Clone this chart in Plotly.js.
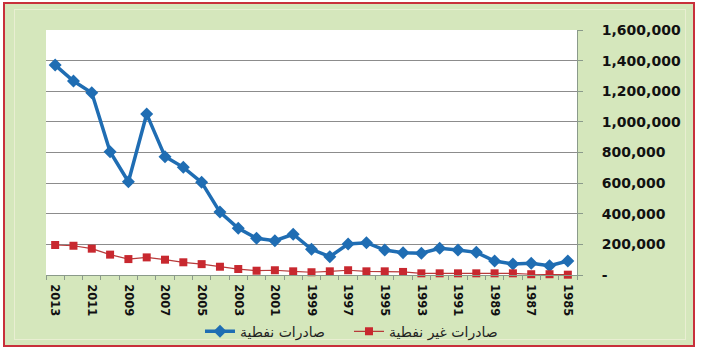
<!DOCTYPE html>
<html><head><meta charset="utf-8">
<script src="https://cdn.plot.ly/plotly-3.0.1.min.js"></script>
<style>
html,body{margin:0;padding:0;background:#fff;width:702px;height:351px;overflow:hidden}
#frame{position:absolute;left:3px;top:2px;width:688px;height:341px;border:2px solid #c8303b;background:#d5e7bc}
#inner{position:absolute;left:14px;top:9px;width:670px;height:329px;border:1px solid #e9eed2;pointer-events:none}
#chart{position:absolute;left:0;top:0;width:702px;height:351px}
</style></head>
<body>
<div id="frame"></div>
<div id="inner"></div>
<div id="chart"></div>
<script>
const years = ['2013','2012','2011','2010','2009','2008','2007','2006','2005','2004','2003','2002','2001','2000','1999','1998','1997','1996','1995','1994','1993','1992','1991','1990','1989','1988','1987','1986','1985'];
const oilExports = [1371000,1267000,1190000,805000,609000,1051000,773000,703000,605000,411000,305000,240000,224000,266000,168000,120000,202000,211000,163000,146000,142000,174000,163000,148000,91000,72000,76000,61000,91000];
const nonOilExports = [196000,191000,172000,133000,104000,115000,100000,83000,71000,54000,39000,28000,31000,24000,18000,24000,31000,24000,24000,20000,11000,11000,11000,11000,11000,11000,5000,5000,2000];
const oilName = 'صادرات نفطية';
const nonOilName = 'صادرات غير نفطية';
const yTickVals = [0,200000,400000,600000,800000,1000000,1200000,1400000,1600000];
const yTickText = ['-','200,000','400,000','600,000','800,000','1,000,000','1,200,000','1,400,000','1,600,000'];
const xTickText = years.map((y,i)=> i%2===0 ? y : '');

const traces = [
 {x: years, y: oilExports, name: oilName, type:'scatter', mode:'lines+markers',
  line:{color:'#1f6db3', width:3.5}, marker:{symbol:'diamond', size:10, color:'#1f6db3'}, cliponaxis:false},
 {x: years, y: nonOilExports, name: nonOilName, type:'scatter', mode:'lines+markers',
  line:{color:'#b83a3a', width:1.2}, marker:{symbol:'square', size:8, color:'#c8282f'}, cliponaxis:false}
];
const layout = {
 width:702, height:351,
 margin:{l:46, r:125, t:30, b:76, autoexpand:false},
 paper_bgcolor:'rgba(0,0,0,0)', plot_bgcolor:'#ffffff',
 showlegend:true,
 legend:{orientation:'h', x:0.29, xanchor:'left', yref:'container', y:0.055, yanchor:'middle',
   font:{family:'DejaVu Sans', size:14, color:'#222'}, entrywidth:104, entrywidthmode:'pixels',
   itemwidth:30, bgcolor:'rgba(0,0,0,0)'},
 xaxis:{type:'category', range:[-0.5, years.length-0.5], autorange:false, automargin:false,
   tickmode:'array', tickvals: years, ticktext: xTickText, tickangle:90,
   tickson:'boundaries', ticks:'outside', ticklen:4, tickcolor:'#8a9a8a', ticklabelstandoff:6,
   showline:true, linecolor:'#8a9a8a', linewidth:1, showgrid:false, zeroline:false,
   tickfont:{family:'DejaVu Sans', size:11.5, weight:'bold', color:'#111'}, fixedrange:true},
 yaxis:{side:'right', range:[0,1600000], autorange:false, automargin:false,
   tickmode:'array', tickvals:yTickVals, ticktext:yTickText,
   ticks:'outside', ticklen:5, tickcolor:'#8a9a8a', showline:true, linecolor:'#8a9a8a', linewidth:1,
   showgrid:true, gridcolor:'#8c8c8c', gridwidth:1, zeroline:false, ticklabelstandoff:16,
   tickfont:{family:'DejaVu Sans', size:14, weight:'bold', color:'#111'}, fixedrange:true}
};
Plotly.newPlot('chart', traces, layout, {displayModeBar:false, staticPlot:true});
</script>
</body></html>
